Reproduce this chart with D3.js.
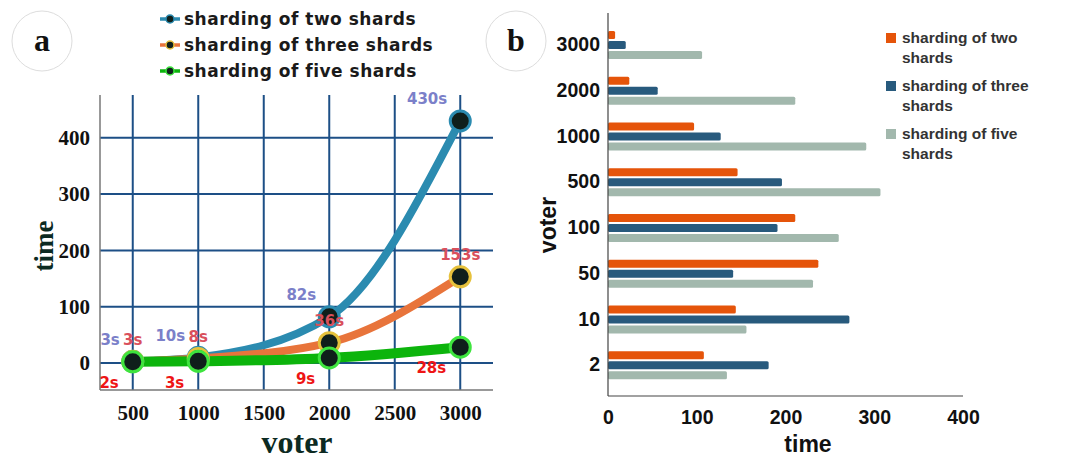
<!DOCTYPE html>
<html><head><meta charset="utf-8">
<script src="https://cdn.jsdelivr.net/npm/d3@7"></script>
<style>body{margin:0;background:#fff;} svg{display:block;}</style>
</head><body>
<svg id="c" width="1067" height="459"></svg>
<script>
// ---- Panel a data ----
const voters = [500, 1000, 2000, 3000];
const twoShards = [3, 10, 82, 430];
const threeShards = [3, 8, 36, 153];
const fiveShards = [2, 3, 9, 28];
const lineSeriesNames = ["sharding of two shards", "sharding of three shards", "sharding of five shards"];
const xTicksA = [500, 1000, 1500, 2000, 2500, 3000];
const yTicksA = [0, 100, 200, 300, 400];

// ---- Panel b data ----
const barCategories = ["3000", "2000", "1000", "500", "100", "50", "10", "2"];
const barTwo = [8, 24, 97, 146, 211, 237, 144, 108];
const barThree = [20, 56, 127, 196, 191, 141, 272, 181];
const barFive = [106, 211, 291, 307, 260, 231, 156, 134];
const barSeriesNames = [["sharding of two", "shards"], ["sharding of three", "shards"], ["sharding of five", "shards"]];
const xTicksB = [0, 100, 200, 300, 400];

const svg = d3.select("#c");
const serif = "'Liberation Serif','Times New Roman',serif";
const sans = "'Liberation Sans',Arial,sans-serif";
const verd = "'DejaVu Sans',Verdana,sans-serif";

// panel letters
[["a", 42, 41], ["b", 516, 41]].forEach(([t, cx, cy]) => {
  svg.append("circle").attr("cx", cx).attr("cy", cy).attr("r", 30)
    .attr("fill", "#fff").attr("stroke", "#ddd").attr("stroke-width", 1);
  svg.append("text").attr("x", cx).attr("y", cy + 10).attr("text-anchor", "middle")
    .attr("font-family", serif).attr("font-weight", "bold").attr("font-size", 32).attr("fill", "#111").text(t);
});

// ===== Panel a =====
const xA = d3.scaleLinear().domain([250, 3250]).range([100, 493]);
const yA = d3.scaleLinear().domain([-48, 476]).range([390, 95]);
const gA = svg.append("g");
const gridColor = "#1d4f86";
gA.selectAll("line.vg").data(xTicksA).join("line")
  .attr("x1", d => xA(d)).attr("x2", d => xA(d)).attr("y1", 95).attr("y2", 390)
  .attr("stroke", gridColor).attr("stroke-width", 2);
gA.selectAll("line.hg").data(yTicksA).join("line")
  .attr("x1", 100).attr("x2", 493).attr("y1", d => yA(d)).attr("y2", d => yA(d))
  .attr("stroke", gridColor).attr("stroke-width", 2);
gA.append("line").attr("x1", 100).attr("x2", 100).attr("y1", 95).attr("y2", 390).attr("stroke", "#777").attr("stroke-width", 1.5);
gA.append("line").attr("x1", 100).attr("x2", 493).attr("y1", 390).attr("y2", 390).attr("stroke", "#777").attr("stroke-width", 1.5);

const xAxisA = d3.axisBottom(xA).tickValues(xTicksA).tickFormat(d3.format("d")).tickSize(0).tickPadding(0);
const gxa = gA.append("g").attr("transform", "translate(0,405)").call(xAxisA);
gxa.select(".domain").remove();
gxa.selectAll("text").attr("font-family", serif).attr("font-weight", "bold").attr("font-size", 21).attr("fill", "#111").attr("dy", "0.71em");
const yAxisA = d3.axisLeft(yA).tickValues(yTicksA).tickFormat(d3.format("d")).tickSize(0).tickPadding(0);
const gya = gA.append("g").attr("transform", "translate(90,0)").call(yAxisA);
gya.select(".domain").remove();
gya.selectAll("text").attr("font-family", serif).attr("font-weight", "bold").attr("font-size", 21).attr("fill", "#111");

gA.append("text").attr("x", 297).attr("y", 453).attr("text-anchor", "middle")
  .attr("font-family", serif).attr("font-weight", "bold").attr("font-size", 32).attr("fill", "#0c2a22").text("voter");
gA.append("text").attr("transform", "translate(53,246) rotate(-90)").attr("text-anchor", "middle")
  .attr("font-family", serif).attr("font-weight", "bold").attr("font-size", 27).attr("fill", "#0c2a22").text("time");

const series = [
  {name: lineSeriesNames[0], vals: twoShards, color: "#2b8bb0", ring: "#2b8bb0", w: 8, curve: d3.curveMonotoneX,
   lab: "#7b80c9", anchor: "end", dx: -13, dy: -22},
  {name: lineSeriesNames[1], vals: threeShards, color: "#e8743b", ring: "#e6c13c", w: 8, curve: d3.curveMonotoneX,
   lab: "#d9505c", anchor: "middle", dx: 0, dy: -22},
  {name: lineSeriesNames[2], vals: fiveShards, color: "#0cb40c", ring: "#3ee43e", w: 10, curve: d3.curveMonotoneX,
   lab: "#ee1515", anchor: "end", dx: -14, dy: 21}
];
const line = d3.line().x((d, i) => xA(voters[i])).y(d => yA(d));
series.forEach(s => {
  gA.append("path").datum(s.vals).attr("d", line.curve(s.curve))
    .attr("fill", "none").attr("stroke", s.color).attr("stroke-width", s.w).attr("stroke-linecap", "round");
});
series.forEach(s => {
  gA.selectAll(null).data(s.vals).join("circle")
    .attr("cx", (d, i) => xA(voters[i])).attr("cy", d => yA(d)).attr("r", 10)
    .attr("fill", "#0f1f1b").attr("stroke", s.ring).attr("stroke-width", 3);
});
series.forEach(s => {
  gA.selectAll(null).data(s.vals).join("text")
    .attr("x", (d, i) => xA(voters[i]) + s.dx).attr("y", d => yA(d) + s.dy)
    .attr("dy", "0.35em").attr("text-anchor", s.anchor)
    .attr("font-family", verd).attr("font-weight", "bold").attr("font-size", 15).attr("fill", s.lab)
    .text(d => d + "s");
});

// legend a
series.forEach((s, i) => {
  const y = 19 + i * 26;
  svg.append("line").attr("x1", 160).attr("x2", 180).attr("y1", y).attr("y2", y).attr("stroke", s.color).attr("stroke-width", 3.5);
  svg.append("circle").attr("cx", 170).attr("cy", y).attr("r", 4).attr("fill", "#0f1f1b").attr("stroke", s.ring).attr("stroke-width", 1.5);
  svg.append("text").attr("x", 184).attr("y", y).attr("dy", "0.35em")
    .attr("font-family", verd).attr("font-weight", "bold").attr("font-size", 17).attr("letter-spacing", 0.5)
    .attr("fill", "#1a1a1a").text(s.name);
});

// ===== Panel b =====
const xB = d3.scaleLinear().domain([0, 400]).range([608, 963]);
const yB = d3.scaleBand().domain(barCategories).range([22, 388]);
const gB = svg.append("g");
const barSeries = [
  {vals: barTwo, color: "#e5540a", off: -10},
  {vals: barThree, color: "#285a7d", off: 0},
  {vals: barFive, color: "#a2b8ad", off: 10}
];
barSeries.forEach(s => {
  gB.selectAll(null).data(s.vals).join("rect")
    .attr("x", xB(0)).attr("y", (d, i) => yB(barCategories[i]) + yB.bandwidth() / 2 + s.off - 4)
    .attr("width", d => xB(d) - xB(0)).attr("height", 8).attr("rx", 1.5)
    .attr("fill", s.color);
});
gB.append("line").attr("x1", 608).attr("x2", 608).attr("y1", 13).attr("y2", 396).attr("stroke", "#444").attr("stroke-width", 1.2);
gB.append("line").attr("x1", 608).attr("x2", 963).attr("y1", 396).attr("y2", 396).attr("stroke", "#444").attr("stroke-width", 1.2);

const xAxisB = d3.axisBottom(xB).tickValues(xTicksB).tickSize(0).tickPadding(0);
const gxb = gB.append("g").attr("transform", "translate(0,410)").call(xAxisB);
gxb.select(".domain").remove();
gxb.selectAll("text").attr("font-family", sans).attr("font-weight", "bold").attr("font-size", 19.5).attr("fill", "#111").attr("dy", "0.71em");
const yAxisB = d3.axisLeft(yB).tickSize(0).tickPadding(0);
const gyb = gB.append("g").attr("transform", "translate(600,0)").call(yAxisB);
gyb.select(".domain").remove();
gyb.selectAll("text").attr("font-family", sans).attr("font-weight", "bold").attr("font-size", 19.5).attr("fill", "#111");

gB.append("text").attr("x", 808).attr("y", 452).attr("text-anchor", "middle")
  .attr("font-family", sans).attr("font-weight", "bold").attr("font-size", 23).attr("fill", "#111").text("time");
gB.append("text").attr("transform", "translate(556,225) rotate(-90)").attr("text-anchor", "middle")
  .attr("font-family", sans).attr("font-weight", "bold").attr("font-size", 23).attr("fill", "#111").text("voter");

// legend b
barSeries.forEach((s, i) => {
  const y = 38 + i * 48;
  gB.append("rect").attr("x", 886).attr("y", y - 5).attr("width", 10).attr("height", 10).attr("fill", s.color);
  gB.append("text").attr("x", 902).attr("y", y).attr("dy", "0.35em")
    .attr("font-family", sans).attr("font-weight", "bold").attr("font-size", 15.5).attr("fill", "#333").text(barSeriesNames[i][0]);
  gB.append("text").attr("x", 902).attr("y", y + 20).attr("dy", "0.35em")
    .attr("font-family", sans).attr("font-weight", "bold").attr("font-size", 15.5).attr("fill", "#333").text(barSeriesNames[i][1]);
});
</script>
</body></html>
